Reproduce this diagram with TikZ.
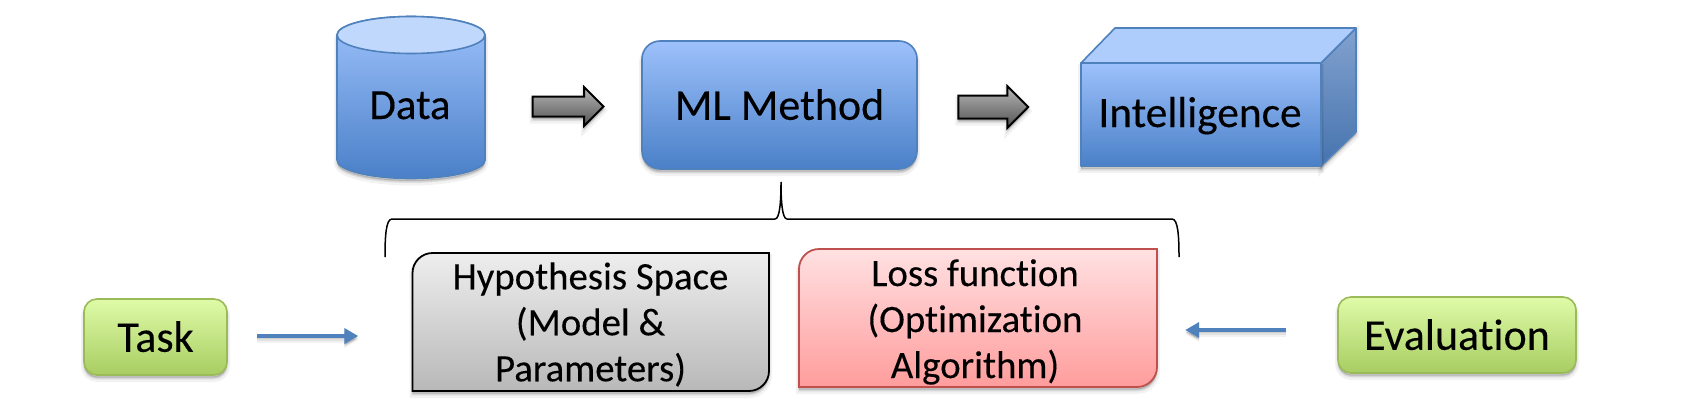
\documentclass[tikz,border=0pt]{standalone}
\usepackage{fontspec}
\setmainfont{Carlito}[Ligatures=NoCommon,FakeBold=0.2]
\usetikzlibrary{shapes.arrows,arrows.meta,calc}
\definecolor{bluetop}{HTML}{9DC1FB}
\definecolor{bluemid}{HTML}{80ABEE}
\definecolor{bluebot}{HTML}{4A80C8}
\definecolor{blueline}{HTML}{4F81BD}
\definecolor{bluelight}{HTML}{C0D8FC}
\definecolor{bluecube}{HTML}{AECDFC}
\definecolor{sidetop}{HTML}{82A2CF}
\definecolor{sidebot}{HTML}{4673AE}
\definecolor{greentop}{HTML}{DFFBA8}
\definecolor{greenmid}{HTML}{CDEB93}
\definecolor{greenbot}{HTML}{A8CD62}
\definecolor{greenline}{HTML}{9BBB59}
\definecolor{redtop}{HTML}{FFE1E2}
\definecolor{redbot}{HTML}{FF9C9C}
\definecolor{redline}{HTML}{C0504D}
\definecolor{greytop}{HTML}{EEEEEE}
\definecolor{greybot}{HTML}{B8B8B8}
\tikzset{
  softshadow/.style={
    preaction={draw=black,fill=black,draw opacity=.05,fill opacity=.05,line width=6pt,transform canvas={yshift=-4pt}},
    preaction={draw=black,fill=black,draw opacity=.06,fill opacity=.06,line width=3pt,transform canvas={yshift=-3pt}},
    preaction={draw=black,fill=black,draw opacity=.08,fill opacity=.08,line width=1pt,transform canvas={yshift=-2pt}}},
  bluefill/.style={top color=bluetop,middle color=bluemid,bottom color=bluebot},
  blueedge/.style={draw=blueline,line width=1.6pt,line join=round},
  greenbox/.style={draw=greenline,line width=1.6pt,rounded corners=13pt,
    top color=greentop,middle color=greenmid,bottom color=greenbot,softshadow,inner sep=0pt,font=\fontsize{44}{50}\selectfont},
  greyarrow/.style={single arrow,draw=black,line width=2pt,inner xsep=0pt,inner ysep=0pt,
    top color=black!28,bottom color=black!68,softshadow,line join=miter},
  bluearrow/.style={draw=blueline,line width=4.6pt,-{Triangle[length=14pt,width=15pt]},softshadow},
  toplabel/.style={inner sep=0pt,font=\fontsize{43.4}{50}\selectfont},
  twolabel/.style={inner sep=0pt,align=center,font=\fontsize{38.8}{46}\selectfont},
  bracket/.style={draw=black,line width=1.5pt}
}
\begin{document}
\begin{tikzpicture}[x=1pt,y=-1pt]
\useasboundingbox (0,0) rectangle (1688,412);
% Data cylinder
\path[blueedge,bluefill,softshadow] (337,35) -- (337,160)
  .. controls (337,170.2) and (370.1,178.5) .. (411,178.5)
  .. controls (451.9,178.5) and (485,170.2) .. (485,160) -- (485,35)
  .. controls (485,24.8) and (451.9,16.5) .. (411,16.5)
  .. controls (370.1,16.5) and (337,24.8) .. (337,35) -- cycle;
\path[blueedge,fill=bluelight] (337,35)
  .. controls (337,24.8) and (370.1,16.5) .. (411,16.5)
  .. controls (451.9,16.5) and (485,24.8) .. (485,35)
  .. controls (485,45.2) and (451.9,53.5) .. (411,53.5)
  .. controls (370.1,53.5) and (337,45.2) .. (337,35) -- cycle;
\node[inner sep=0pt,font=\fontsize{43}{50}\selectfont,anchor=base] (data) at (410,119) {Data};
% ML Method
\node[blueedge,bluefill,softshadow,rounded corners=18pt,minimum width=275pt,minimum height=128pt,inner sep=0pt,
  font=\fontsize{44}{50}\selectfont] (ml) at (779.5,105) {\raisebox{1pt}{ML Method}};
% Intelligence cube
\path[blueedge,top color=sidetop,bottom color=sidebot,softshadow] (1321,63) -- (1356,28) -- (1356,132) -- (1321,166) -- cycle;
\path[blueedge,bluefill,softshadow] (1081,63) rectangle (1321,166);
\path[blueedge,fill=bluecube] (1081,63) -- (1115,28) -- (1356,28) -- (1321,63) -- cycle;
\node[toplabel,anchor=base] (intel) at (1200,127) {Intelligence};
% grey block arrows
\node[greyarrow,minimum height=71pt,minimum width=37pt,single arrow head extend=9.5pt] (arrowa) at (563,106.5) {\rule{0pt}{18pt}};
\node[greyarrow,minimum height=70pt,minimum width=40pt,single arrow head extend=9.5pt] (arrowb) at (987.5,107) {\rule{0pt}{21pt}};
% Bracket
\coordinate (bl) at (385,257);
\coordinate (br) at (1179,257);
\coordinate (tip) at ([xshift=1.5pt,yshift=-12pt]ml.south);
\draw[bracket] (bl) .. controls (385,236) and (386,219) .. (392,219) -- (775,219)
  .. controls (780,219) and (781,200) .. (tip)
  .. controls (781,200) and (782,219) .. (787,219) -- (1172,219)
  .. controls (1178,219) and (1179,236) .. (br);
% Hypothesis box
\path[draw=black,line width=1.8pt,top color=greytop,bottom color=greybot,softshadow]
  (412.5,391) -- (412.5,273) .. controls (412.5,262) and (421.5,253) .. (432.5,253) -- (769,253) -- (769,371)
  .. controls (769,382) and (760,391) .. (749,391) -- cycle;
\node[twolabel,minimum width=356pt] (hyp) at (590.5,324.5) {Hypothesis Space\\(Model \&\\Parameters)};
% Loss box
\path[draw=redline,line width=1.8pt,top color=redtop,bottom color=redbot,softshadow]
  (799,387) -- (799,269) .. controls (799,258) and (808,249) .. (819,249) -- (1157,249) -- (1157,367)
  .. controls (1157,378) and (1148,387) .. (1137,387) -- cycle;
\node[twolabel,minimum width=364pt] (loss) at (975,322) {Loss function\\(Optimization\\Algorithm)};
% Task and Evaluation
\node[greenbox,minimum width=143pt,minimum height=76pt] (task) at (155.5,337) {\raisebox{1pt}{Task}};
\node[greenbox,minimum width=238pt,minimum height=76pt] (evalu) at (1457,335) {\raisebox{1pt}{Evaluation}};
% Blue connectors
\draw[bluearrow,shorten <=29pt,shorten >=54pt] ([yshift=1pt]task.east) -- ([yshift=1pt]task.east -| hyp.west);
\draw[bluearrow,shorten <=51pt,shorten >=28pt] ([yshift=5pt]evalu.west) -- ([yshift=5pt]evalu.west -| loss.east);
\end{tikzpicture}
\end{document}
